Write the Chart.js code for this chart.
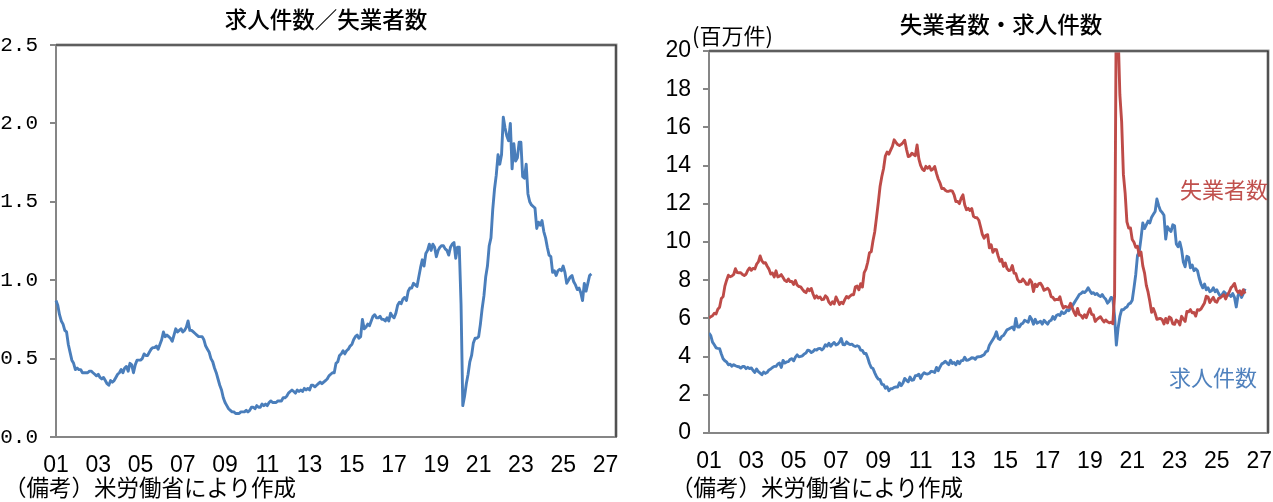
<!DOCTYPE html>
<html lang="ja">
<head>
<meta charset="utf-8">
<script src="https://cdn.jsdelivr.net/npm/chart.js@4.4.1/dist/chart.umd.min.js"></script>
<style>
  html, body { margin: 0; padding: 0; background: #fff; }
  body { width: 1273px; height: 502px; position: relative; overflow: hidden;
         font-family: "Noto Sans CJK JP", "Noto Sans", sans-serif; color: #000; }
  canvas { position: absolute; top: 0; }
  .t { position: absolute; white-space: nowrap; line-height: 1; }
</style>
</head>
<body>
<canvas id="left" width="640" height="502" style="left:0"></canvas>
<canvas id="right" width="633" height="502" style="left:640px"></canvas>

<div class="t" id="titleL" style="left:176px;width:300px;text-align:center;top:7px;font-size:22.5px;font-weight:500;">求人件数／失業者数</div>
<div class="t" id="titleR" style="left:851px;width:300px;text-align:center;top:12px;font-size:22.5px;font-weight:500;">失業者数・求人件数</div>
<div class="t" id="unit" style="left:692px;top:23px;font-size:22px;">(百万件)</div>
<div class="t" id="noteL" style="left:4px;top:475px;font-size:22.5px;">（備考）米労働省により作成</div>
<div class="t" id="noteR" style="left:671px;top:475px;font-size:22.5px;">（備考）米労働省により作成</div>
<div class="t" id="labU" style="left:1180px;top:177px;font-size:22px;color:#C0504D;">失業者数</div>
<div class="t" id="labO" style="left:1169px;top:365px;font-size:22px;color:#4F81BD;">求人件数</div>

<script>
// ---- data (monthly, starting Jan 2001) ----
const xTickLabels = ['01','03','05','07','09','11','13','15','17','19','21','23','25','27'];
const ratioTicks = [0, 0.5, 1.0, 1.5, 2.0, 2.5];
const countTicks = [0, 2, 4, 6, 8, 10, 12, 14, 16, 18, 20];

// 求人件数／失業者数
const ratio = [
  0.87,0.84,0.78,0.74,0.72,0.68,0.67,0.59,0.54,0.49,0.47,0.43,
  0.44,0.43,0.43,0.41,0.41,0.41,0.41,0.42,0.42,0.41,0.40,0.39,
  0.40,0.38,0.37,0.38,0.36,0.34,0.33,0.36,0.35,0.36,0.38,0.40,
  0.41,0.43,0.41,0.44,0.45,0.42,0.47,0.46,0.41,0.46,0.49,0.49,
  0.49,0.50,0.53,0.52,0.52,0.54,0.56,0.57,0.57,0.58,0.56,0.59,
  0.62,0.67,0.64,0.65,0.64,0.63,0.61,0.65,0.69,0.67,0.68,0.69,
  0.67,0.68,0.70,0.74,0.68,0.68,0.67,0.66,0.65,0.64,0.64,0.64,
  0.62,0.58,0.56,0.54,0.50,0.48,0.44,0.41,0.37,0.33,0.30,0.25,
  0.22,0.20,0.18,0.17,0.16,0.16,0.15,0.15,0.15,0.16,0.16,0.16,
  0.17,0.16,0.17,0.19,0.19,0.18,0.20,0.19,0.19,0.21,0.20,0.21,
  0.20,0.22,0.23,0.22,0.22,0.22,0.23,0.23,0.23,0.25,0.25,0.26,
  0.28,0.29,0.30,0.29,0.28,0.30,0.29,0.30,0.29,0.31,0.30,0.31,
  0.30,0.33,0.33,0.32,0.33,0.34,0.35,0.34,0.35,0.36,0.37,0.39,
  0.40,0.41,0.41,0.47,0.48,0.52,0.53,0.55,0.53,0.55,0.56,0.58,
  0.59,0.62,0.64,0.65,0.63,0.64,0.75,0.69,0.70,0.72,0.71,0.74,
  0.77,0.78,0.76,0.76,0.77,0.75,0.75,0.74,0.76,0.74,0.79,0.77,
  0.76,0.79,0.84,0.86,0.85,0.88,0.89,0.87,0.93,0.95,0.95,0.98,
  0.97,0.96,1.02,1.08,1.13,1.09,1.17,1.19,1.23,1.19,1.23,1.21,
  1.15,1.19,1.21,1.22,1.22,1.20,1.19,1.16,1.21,1.23,1.24,1.14,
  1.21,1.21,0.85,0.20,0.26,0.34,0.40,0.48,0.52,0.60,0.63,0.63,
  0.64,0.72,0.82,0.90,1.02,1.09,1.22,1.27,1.45,1.58,1.67,1.80,
  1.74,1.80,2.04,1.97,1.92,1.89,2.00,1.71,1.87,1.76,1.78,1.88,
  1.88,1.66,1.65,1.74,1.55,1.50,1.48,1.47,1.46,1.33,1.37,1.35,
  1.38,1.31,1.27,1.21,1.16,1.15,1.05,1.06,1.03,1.06,1.07,1.06,
  1.09,1.05,0.98,1.00,1.02,1.03,0.99,0.97,0.94,0.95,0.92,0.87,
  0.98,0.93,0.98,1.03,1.04
];

// 失業者数 (百万人)
const unemployed = [
  6.02,6.09,6.14,6.27,6.23,6.48,6.58,7.04,7.14,7.69,8.00,8.26,
  8.18,8.22,8.30,8.60,8.40,8.39,8.39,8.30,8.25,8.31,8.52,8.64,
  8.52,8.62,8.59,8.84,8.96,9.27,9.01,8.90,8.92,8.73,8.58,8.32,
  8.37,8.17,8.49,8.17,8.21,8.29,8.14,7.99,7.93,8.06,7.93,7.93,
  7.78,7.98,7.74,7.67,7.65,7.52,7.41,7.35,7.55,7.45,7.57,7.28,
  7.06,7.18,7.07,7.12,6.98,7.00,7.18,7.09,6.85,6.73,6.87,6.76,
  7.12,6.93,6.73,6.85,6.77,6.98,7.15,7.07,7.17,7.24,7.24,7.65,
  7.69,7.50,7.82,7.64,8.40,8.58,8.94,9.44,9.49,10.07,10.54,11.29,
  12.06,12.90,13.43,13.85,14.50,14.71,14.60,14.81,15.01,15.35,15.22,15.10,
  15.05,15.11,15.20,15.33,14.85,14.47,14.51,14.65,14.58,14.52,15.08,14.35,
  14.01,13.82,13.74,13.96,13.86,13.96,13.76,13.82,13.95,13.59,13.30,13.09,
  12.80,12.81,12.71,12.65,12.66,12.69,12.66,12.47,12.12,12.12,12.01,12.30,
  12.47,11.95,11.69,11.76,11.65,11.75,11.34,11.28,11.27,11.14,10.79,10.40,
  10.20,10.35,10.38,9.70,9.86,9.46,9.61,9.60,9.26,8.99,9.09,8.72,
  8.90,8.61,8.50,8.53,8.77,8.37,8.34,8.03,7.92,7.93,8.06,7.94,
  7.79,7.78,8.03,7.90,7.41,7.79,7.67,7.82,7.84,7.69,7.47,7.52,
  7.58,7.47,7.14,7.10,6.96,6.99,6.98,7.13,6.76,6.54,6.63,6.59,
  6.58,6.79,6.55,6.32,6.15,6.52,6.20,6.15,6.01,6.19,6.04,6.30,
  6.51,6.21,6.18,5.84,5.95,6.02,6.09,5.94,5.81,5.92,5.82,5.77,
  5.80,5.72,7.19,23.09,20.99,17.70,16.31,13.54,12.54,11.05,10.73,10.74,
  10.13,9.99,9.72,9.78,9.30,9.47,8.75,8.37,7.73,7.37,6.88,6.32,
  6.52,6.27,5.95,5.98,6.00,5.93,5.71,6.00,5.76,6.08,6.01,5.72,
  5.69,5.91,5.84,5.66,6.11,5.96,5.84,6.36,6.35,6.46,6.29,6.31,
  6.12,6.46,6.43,6.49,6.65,6.81,7.16,7.12,6.83,6.98,7.10,6.89,
  6.85,7.05,7.08,7.16,7.24,7.02,7.24,7.38,7.60,7.70,7.83,7.50,
  7.36,7.45,7.24,7.50,7.30
];

// 求人件数 (百万件)
const openings = [
  5.23,5.10,4.76,4.62,4.46,4.43,4.42,4.14,3.89,3.78,3.72,3.57,
  3.60,3.50,3.58,3.52,3.48,3.47,3.40,3.48,3.48,3.37,3.44,3.37,
  3.41,3.27,3.17,3.35,3.21,3.13,3.05,3.19,3.12,3.18,3.30,3.35,
  3.43,3.49,3.49,3.61,3.66,3.43,3.80,3.66,3.72,3.74,3.86,3.89,
  3.78,3.97,4.09,3.99,4.01,4.04,4.14,4.19,4.34,4.31,4.21,4.27,
  4.37,4.34,4.42,4.43,4.35,4.44,4.62,4.55,4.70,4.54,4.66,4.74,
  4.61,4.65,4.76,4.95,4.63,4.62,4.77,4.68,4.63,4.65,4.57,4.53,
  4.57,4.53,4.34,4.32,4.16,4.17,3.94,3.64,3.43,3.38,3.15,2.95,
  2.82,2.79,2.55,2.53,2.35,2.42,2.21,2.32,2.32,2.39,2.41,2.41,
  2.63,2.48,2.62,2.86,2.76,2.68,2.93,2.76,2.78,3.00,3.01,3.08,
  2.86,3.05,3.15,3.10,3.09,3.13,3.23,3.21,3.17,3.43,3.26,3.46,
  3.62,3.67,3.76,3.66,3.58,3.81,3.64,3.69,3.57,3.76,3.63,3.79,
  3.79,3.97,3.81,3.82,3.87,3.94,3.93,3.86,3.98,3.99,4.00,4.05,
  4.10,4.25,4.30,4.60,4.75,4.90,5.05,5.30,4.95,4.90,5.05,5.10,
  5.25,5.40,5.45,5.50,5.55,5.40,6.00,5.55,5.55,5.70,5.75,5.90,
  5.85,5.80,6.10,5.95,5.70,5.95,5.75,5.80,5.85,5.70,5.90,5.80,
  5.70,5.85,5.90,6.10,5.95,6.15,6.20,6.15,6.35,6.25,6.30,6.45,
  6.40,6.55,6.65,6.80,6.95,7.10,7.25,7.30,7.40,7.35,7.45,7.60,
  7.45,7.30,7.35,7.25,7.30,7.20,7.15,7.25,7.10,7.00,6.80,6.90,
  7.10,7.05,6.10,4.60,5.50,6.10,6.45,6.45,6.55,6.60,6.75,6.80,
  6.95,7.60,8.30,9.30,9.50,10.20,11.00,10.70,10.90,11.10,11.00,11.30,
  11.45,11.60,12.25,11.90,11.65,11.55,11.40,10.15,10.80,10.65,10.55,10.90,
  10.85,9.90,9.75,10.00,9.60,8.95,8.70,9.25,9.20,8.65,8.80,8.50,
  8.60,8.50,8.10,7.80,7.60,7.80,7.50,7.60,7.40,7.45,7.60,7.40,
  7.50,7.30,7.15,7.25,7.40,7.30,7.20,7.25,7.15,7.30,7.10,6.60,
  7.20,7.35,7.10,7.30,7.55
];

// ---- styling ----
const BLUE = '#4A7EBB', RED = '#BE4B48', AXIS = '#868686';
const TICK_STEP = 24;            // months between axis labels
const LABEL_FONT = { family: '"Liberation Sans", Arial, sans-serif', size: 23 };

Chart.defaults.font.family = '"Liberation Sans", Arial, sans-serif';
Chart.defaults.color = '#000';

const toXY = arr => arr.map((v, i) => ({ x: i, y: v }));

const framePlugin = {
  id: 'frame',
  afterDraw(chart) {
    const { ctx, chartArea: a } = chart;
    ctx.save();
    ctx.strokeStyle = '#9a9a9a';
    ctx.lineWidth = 3;
    ctx.beginPath();
    ctx.moveTo(a.left, a.top); ctx.lineTo(a.right, a.top); ctx.lineTo(a.right, a.bottom);
    ctx.stroke();
    ctx.strokeStyle = '#222';
    ctx.lineWidth = 1.2;
    ctx.beginPath();
    ctx.moveTo(a.left, a.top); ctx.lineTo(a.right, a.top); ctx.lineTo(a.right, a.bottom);
    ctx.stroke();
    ctx.restore();
  }
};

function xScale(h, xMax) {
  return {
    type: 'linear', min: 0, max: xMax,
    afterBuildTicks: s => { s.ticks = xTickLabels.map((l, i) => ({ value: i * TICK_STEP })); },
    afterFit: s => { s.height = h; s.paddingLeft = 0; s.paddingRight = 0; },
    grid: { display: false },
    border: { display: true, color: AXIS, width: 2 },
    ticks: { autoSkip: false, maxRotation: 0, padding: 7, font: LABEL_FONT,
             callback: (v, i) => xTickLabels[i] }
  };
}

function yScale(w, max, tickVals, fmt, font, pad) {
  return {
    type: 'linear', min: 0, max: max,
    afterBuildTicks: s => { s.ticks = tickVals.map(v => ({ value: v })); },
    afterFit: s => { s.width = w; s.paddingTop = 0; s.paddingBottom = 0; },
    grid: { display: true, drawOnChartArea: false, drawTicks: true, tickLength: 6, color: AXIS, lineWidth: 2 },
    border: { display: true, color: AXIS, width: 2 },
    ticks: { padding: pad, font: font, callback: v => fmt(v) }
  };
}

const common = {
  responsive: false, animation: false,
  plugins: { legend: { display: false }, tooltip: { enabled: false } },
  elements: { point: { radius: 0 }, line: { tension: 0, borderJoinStyle: 'round' } }
};

new Chart(document.getElementById('left'), {
  type: 'line',
  data: { datasets: [{ data: toXY(ratio), borderColor: BLUE, borderWidth: 2.9, clip: 2 }] },
  options: Object.assign({}, common, {
    layout: { padding: { left: 0, right: 24, top: 45, bottom: 0 } },
    scales: {
      x: xScale(65, 318),
      y: yScale(56, 2.5, ratioTicks, v => v.toFixed(1),
                { family: '"Liberation Mono", "DejaVu Sans Mono", monospace', size: 21 }, 12)
    }
  }),
  plugins: [framePlugin]
});

new Chart(document.getElementById('right'), {
  type: 'line',
  data: { datasets: [
    { label: '失業者数', data: toXY(unemployed), borderColor: RED, borderWidth: 2.9, clip: 0 },
    { label: '求人件数', data: toXY(openings), borderColor: BLUE, borderWidth: 2.9, clip: 0 }
  ] },
  options: Object.assign({}, common, {
    layout: { padding: { left: 0, right: 5, top: 51, bottom: 0 } },
    scales: {
      x: xScale(69, 317),
      y: yScale(69, 20, countTicks, v => String(v), LABEL_FONT, 12)
    }
  }),
  plugins: [framePlugin]
});
</script>
</body>
</html>
